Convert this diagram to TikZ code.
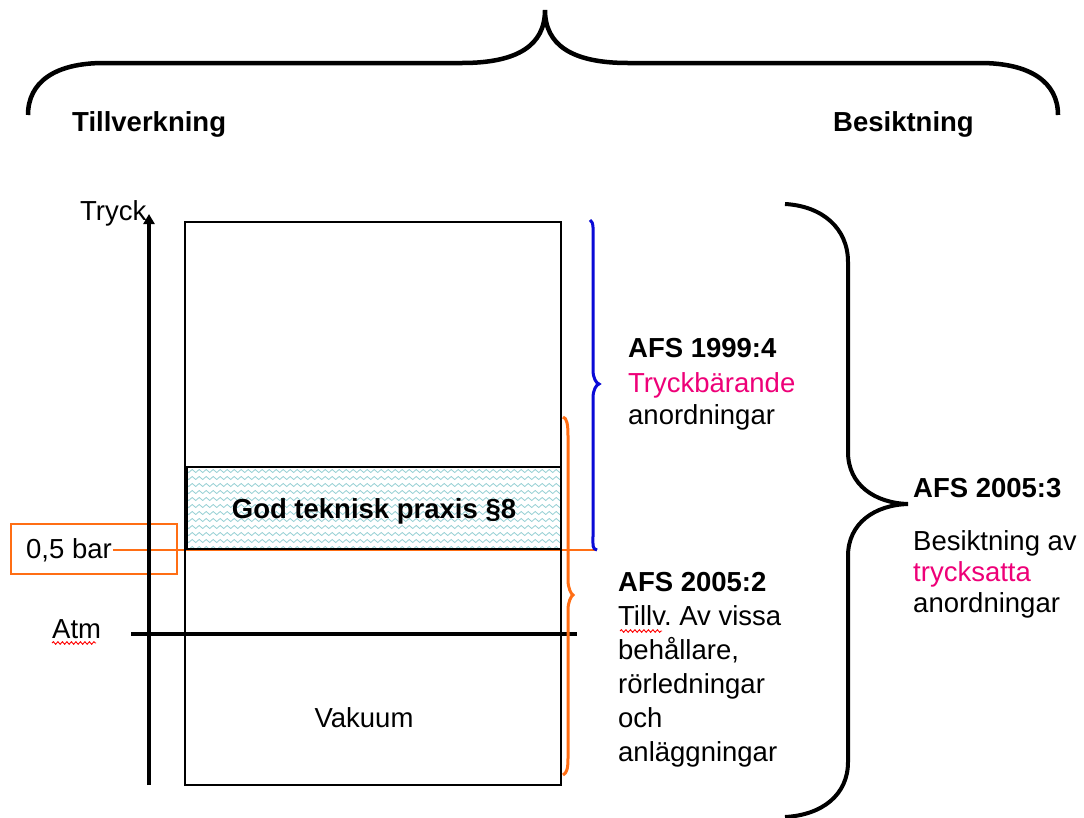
\documentclass[tikz,border=0pt]{standalone}
\usepackage{fontspec}
\setmainfont{Liberation Sans}
\usetikzlibrary{decorations.pathmorphing,arrows.meta}
\definecolor{markorange}{RGB}{255,110,20}
\definecolor{braceblue}{RGB}{10,10,215}
\definecolor{lawpink}{RGB}{238,0,120}
\definecolor{wavecyan}{RGB}{150,208,212}
\frenchspacing

\begin{document}
\begin{tikzpicture}[x=1pt,y=-1pt,
  txt/.style={inner sep=0pt, anchor=base west, font=\fontsize{27.5}{33}\selectfont},
  boldtxt/.style={txt, font=\fontsize{27.5}{33}\selectfont\bfseries},
  pinktxt/.style={txt, text=lawpink},
  squiggle/.style={red, line width=0.9pt, decorate,
    decoration={snake, segment length=4.5pt, amplitude=1.3pt}},
  wave/.style={wavecyan, line width=0.8pt, decorate,
    decoration={snake, segment length=7pt, amplitude=1.5pt}},
  bigbrace/.style={black, line width=4.5pt},
  sidebrace/.style={black, line width=4pt},
  thinbrace/.style={line width=3pt},
]
\useasboundingbox[fill=white] (0,0) rectangle (1084,817);

% top brace over both columns
\draw[bigbrace] (28,115) .. controls (28,82) and (55,63) .. (104,63) -- (462,63)
  .. controls (518,63) and (545,45) .. (545,10)
  .. controls (545,45) and (572,63) .. (628,63) -- (980,63)
  .. controls (1030,63) and (1058,82) .. (1058,115);
\node[boldtxt] (tillv) at (72,131) {Tillverkning};
\node[boldtxt] (besik) at (833,131) {Besiktning};

% wavy band: God teknisk praxis
\begin{scope}
  \clip (186,467) rectangle (560,549);
  \foreach \yy in {471,478,...,548}
    \draw[wave] (176,\yy) -- (570,\yy);
\end{scope}

% 0,5 bar marker line (behind the box)
\coordinate (bluebot) at (597,550);
\node[txt] (halfbar) at (26,558) {0,5 bar};
\coordinate (lineStart) at ([xshift=1pt]halfbar.east |- bluebot);
\draw[markorange, line width=1.6pt] (lineStart) -- (bluebot);
\draw[markorange, line width=1.8pt] (11,524) rectangle (177,574);

% pressure region box
\draw[black, line width=1.5pt] (185,222) rectangle (561,785);
\draw[black, line width=1.5pt] (185,467) -- (561,467);
\draw[black, line width=1.8pt] (185,549) -- (561,549);
\draw[black, line width=3pt] (186,467) -- (186,549);
\node[boldtxt, anchor=base] (praxis) at (374,518) {God teknisk praxis §8};
\node[txt, anchor=base] (vakuum) at (364,727) {Vakuum};

% pressure axis
\coordinate (axisbot) at (149,785);
\coordinate (axistop) at (149,214);
\draw[line width=4pt, -{Triangle[width=11pt,length=10pt]}] (axisbot) -- (axistop);
\node[txt] (tryck) at (80,220) {Tryck};

% atmospheric line
\coordinate (atmL) at (131,634);
\coordinate (atmR) at (577,634);
\draw[line width=4pt] (atmL) -- (atmR);
\node[txt] (atm) at (52,638) {Atm};
\draw[squiggle] (52,643) -- (96,643);

% blue brace
\draw[braceblue, thinbrace] (590,220) .. controls (594,222) and (593,230) .. (593,242)
  -- (593,370) .. controls (593,378) and (596,383) .. (599,384)
  .. controls (596,385) and (593,390) .. (593,398)
  -- (593,536) .. controls (593,545) and (592,549) .. (bluebot);

% orange brace
\draw[markorange, thinbrace] (563,417) .. controls (567,418) and (568,425) .. (568,436)
  -- (568,580) .. controls (568,588) and (571,594) .. (573,595)
  .. controls (571,596) and (568,602) .. (568,610)
  -- (568,758) .. controls (568,768) and (567,773) .. (563,775);

% right black brace
\draw[sidebrace] (785,204) .. controls (822,206) and (848,228) .. (848,262)
  -- (848,452) .. controls (848,485) and (875,503) .. (908,504)
  .. controls (875,505) and (848,523) .. (848,556)
  -- (848,762) .. controls (848,795) and (822,815) .. (785,817);

% AFS 1999:4
\node[boldtxt] (afsA1) at (628,357) {AFS 1999:4};
\node[pinktxt] (afsA2) at (628,392) {Tryckbärande};
\node[txt] (afsA3) at (628,424) {anordningar};

% AFS 2005:2
\node[boldtxt] (afsB1) at (618,591) {AFS 2005:2};
\node[txt] (afsB2) at (618,625) {Tillv. Av vissa};
\draw[squiggle] (620,631) -- (662,631);
\node[txt] (afsB3) at (618,659) {behållare,};
\node[txt] (afsB4) at (618,693) {rörledningar};
\node[txt] (afsB5) at (618,727) {och};
\node[txt] (afsB6) at (618,761) {anläggningar};

% AFS 2005:3
\node[boldtxt] (afsC1) at (913,497) {AFS 2005:3};
\node[txt] (afsC2) at (913,550) {Besiktning av};
\node[pinktxt] (afsC3) at (913,581) {trycksatta};
\node[txt] (afsC4) at (913,612) {anordningar};
\end{tikzpicture}
\end{document}
